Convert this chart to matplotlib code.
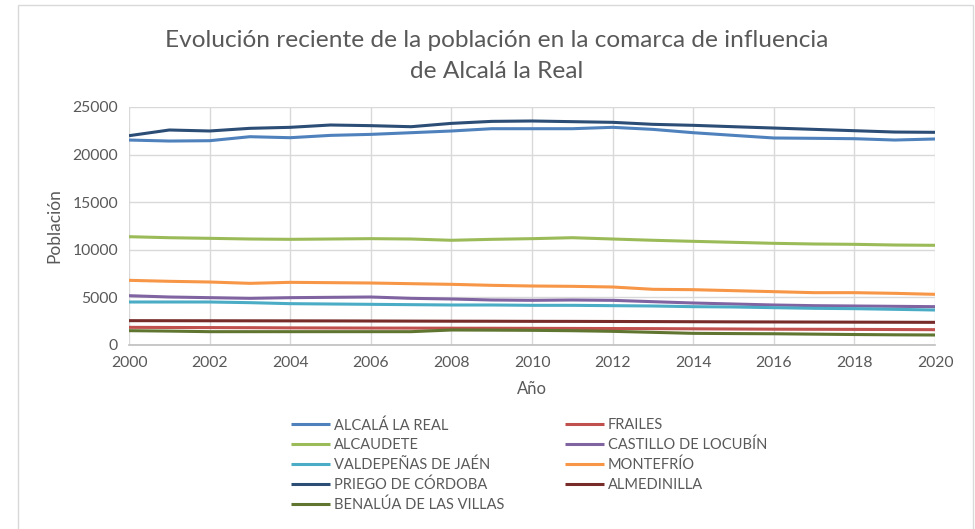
import matplotlib.pyplot as plt
from matplotlib.patches import Rectangle

plt.rcParams['font.family'] = ['Lato', 'DejaVu Sans']

# ================= Data =================
years = list(range(2000, 2021))

alcala = [21530, 21425, 21460, 21880, 21775, 22020, 22125, 22300, 22480, 22720, 22720,
          22720, 22865, 22650, 22300, 22020, 21745, 21710, 21670, 21530, 21640]
frailes = [1855, 1840, 1830, 1820, 1800, 1790, 1780, 1775, 1765, 1760, 1750,
           1740, 1730, 1720, 1700, 1680, 1660, 1650, 1640, 1625, 1610]
alcaudete = [11376, 11270, 11205, 11134, 11100, 11134, 11170, 11134, 11000, 11100, 11170,
             11270, 11134, 11000, 10890, 10785, 10680, 10610, 10575, 10504, 10470]
castillo = [5180, 5042, 4972, 4902, 4972, 5007, 5042, 4902, 4832, 4727, 4692,
            4727, 4692, 4550, 4412, 4307, 4202, 4132, 4097, 4062, 4027]
valdepenas = [4517, 4517, 4517, 4447, 4342, 4307, 4272, 4237, 4202, 4202, 4167,
              4167, 4132, 4097, 4027, 3992, 3922, 3852, 3817, 3747, 3676]
montefrio = [6793, 6690, 6617, 6477, 6582, 6547, 6512, 6440, 6373, 6268, 6197,
             6163, 6093, 5850, 5810, 5707, 5603, 5497, 5497, 5427, 5322]
priego = [21985, 22584, 22480, 22760, 22865, 23109, 23040, 22930, 23280, 23490, 23530,
          23460, 23390, 23180, 23075, 22930, 22790, 22650, 22510, 22370, 22340]
almedinilla = [2556, 2550, 2545, 2540, 2535, 2530, 2520, 2510, 2500, 2495, 2485,
               2480, 2470, 2460, 2445, 2430, 2420, 2410, 2400, 2390, 2380]
benalua = [1505, 1460, 1400, 1400, 1400, 1400, 1400, 1400, 1575, 1560, 1540,
           1500, 1435, 1330, 1225, 1200, 1180, 1140, 1100, 1070, 1050]

names = ['ALCALÁ LA REAL', 'FRAILES', 'ALCAUDETE', 'CASTILLO DE LOCUBÍN',
         'VALDEPEÑAS DE JAÉN', 'MONTEFRÍO', 'PRIEGO DE CÓRDOBA', 'ALMEDINILLA',
         'BENALÚA DE LAS VILLAS']
series = [alcala, frailes, alcaudete, castillo, valdepenas, montefrio,
          priego, almedinilla, benalua]
colors = ['#4F81BD', '#C0504D', '#9BBB59', '#8064A2', '#4BACC6', '#F79646',
          '#2C4D75', '#772C2A', '#5F7530']

# ================= Plot =================
W, H = 975, 529
fig = plt.figure(figsize=(W / 100, H / 100), dpi=100)
ax = fig.add_axes([129 / W, 1 - 345 / H, (935 - 129) / W, (345 - 107) / H])

lines = {}
for name, vals, c in zip(names, series, colors):
    ln, = ax.plot(years, vals, color=c, lw=2.2, solid_capstyle='butt', zorder=3)
    lines[name] = ln

ax.set_xlim(2000, 2020)
ax.set_ylim(0, 25000)
ax.set_xticks(range(2000, 2021, 2))
ax.set_yticks(range(0, 25001, 5000))
ax.grid(True, color='#d9d9d9', lw=1)
ax.set_axisbelow(True)
for s in ['top', 'right', 'left']:
    ax.spines[s].set_visible(False)
ax.spines['bottom'].set_color('#bfbfbf')
ax.spines['bottom'].set_linewidth(1.2)
ax.tick_params(length=0, labelsize=11.3, labelcolor='#595959', pad=8)
ax.set_xlabel('Año', fontsize=12, color='#595959', labelpad=8)
ax.set_ylabel('Población', fontsize=12.5, color='#595959', labelpad=7)

fig.text(497 / W, 1 - 40 / H, 'Evolución reciente de la población en la comarca de influencia',
         ha='center', va='center', fontsize=17.6, color='#595959')
fig.text(497 / W, 1 - 72 / H, 'de Alcalá la Real',
         ha='center', va='center', fontsize=17.6, color='#595959')

# chart border
fig.patches.append(Rectangle((18 / W, -0.05), (973 - 18) / W, 1 - 5 / H + 0.05,
                             transform=fig.transFigure, fill=False,
                             edgecolor='#d9d9d9', lw=1))

col1 = ['ALCALÁ LA REAL', 'ALCAUDETE', 'VALDEPEÑAS DE JAÉN', 'PRIEGO DE CÓRDOBA',
        'BENALÚA DE LAS VILLAS']
col2 = ['FRAILES', 'CASTILLO DE LOCUBÍN', 'MONTEFRÍO', 'ALMEDINILLA']
for col, x0 in [(col1, 291), (col2, 565)]:
    leg = fig.legend([lines[n] for n in col], col, loc='upper left',
                     bbox_to_anchor=(x0 / W, 1 - 418 / H), frameon=False,
                     fontsize=10.5, handlelength=2.7, handletextpad=0.25,
                     labelspacing=0.38, borderpad=0, borderaxespad=0)
    for t in leg.get_texts():
        t.set_color('#595959')

fig.savefig('out.png', dpi=100)
